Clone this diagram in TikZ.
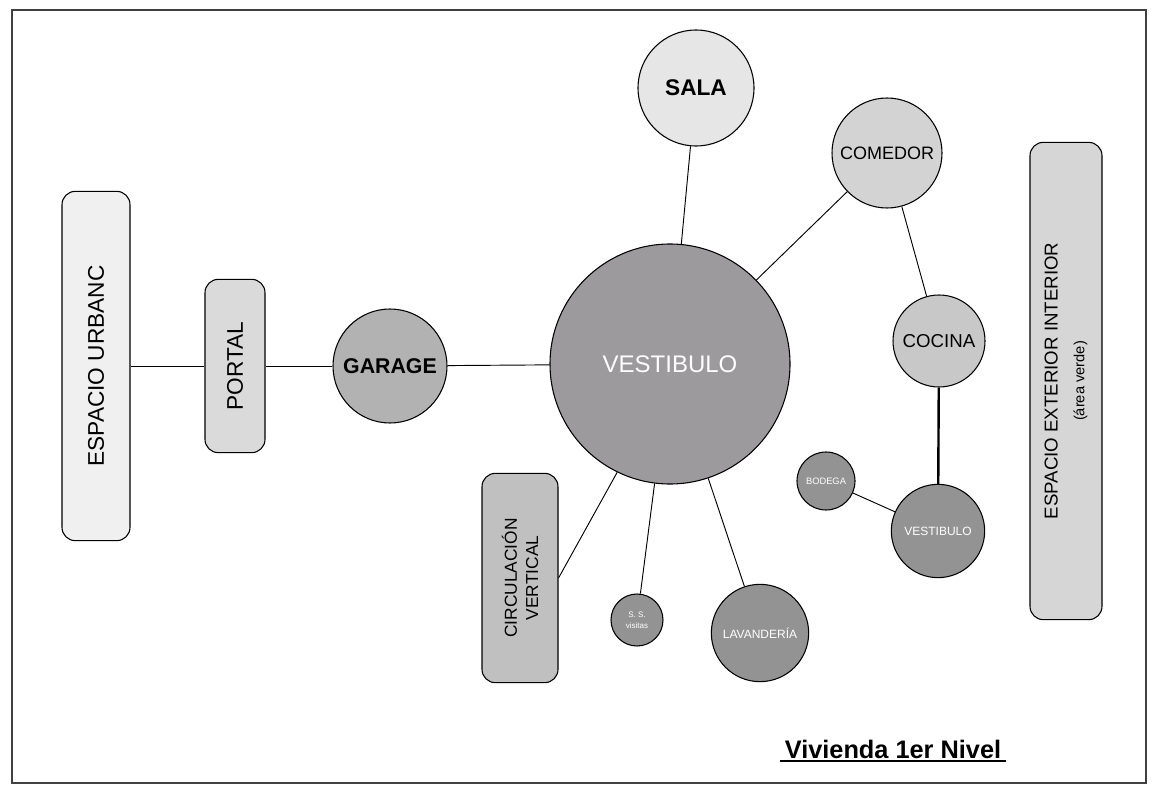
\documentclass[tikz,border=0pt]{standalone}
\usepackage{fontspec}
\setmainfont{Liberation Sans}
\definecolor{urbgray}{HTML}{F0F0F0}
\definecolor{portgray}{HTML}{DADADA}
\definecolor{gargray}{HTML}{B2B2B2}
\definecolor{vestgray}{HTML}{9C9A9C}
\definecolor{salagray}{HTML}{E6E6E6}
\definecolor{comgray}{HTML}{D3D3D3}
\definecolor{cocgray}{HTML}{C8C8C8}
\definecolor{smallgray}{HTML}{939393}
\definecolor{circgray}{HTML}{C0C0C0}
\definecolor{extgray}{HTML}{D6D6D6}
\begin{document}
\begin{tikzpicture}[x=0.75pt,y=-0.75pt,
  room/.style={circle,draw,line width=0.8pt,inner sep=0pt},
  zone/.style={draw,line width=0.8pt,rounded corners=10pt,rotate=90,inner sep=0pt,align=center},
  link/.style={line width=0.7pt}]
\useasboundingbox (0,0) rectangle (1157,795);
\draw[line width=1.1pt,black!75] (12,10) rectangle (1146,783);

% zonas exteriores
\node[zone,fill=urbgray,minimum width=262pt,minimum height=51pt,font=\fontsize{17}{20}\selectfont] (urbano) at (96,366) {ESPACIO URBANC};
\node[zone,fill=portgray,minimum width=130pt,minimum height=45pt,font=\fontsize{17}{20}\selectfont] (portal) at (235,366) {PORTAL};
\node[zone,fill=circgray,minimum width=157pt,minimum height=57pt,font=\fontsize{13}{16}\selectfont] (circ) at (520,578) {CIRCULACIÓN\\VERTICAL};
\node[zone,fill=extgray,minimum width=358pt,minimum height=54pt,font=\fontsize{14}{20}\selectfont] (exterior) at (1066,381) {ESPACIO EXTERIOR INTERIOR\\{\fontsize{11}{13}\selectfont (área verde)}};

% ambientes
\node[room,fill=gargray,minimum size=85.5pt,font=\bfseries\fontsize{16}{18}\selectfont] (garage) at (390,366) {GARAGE};
\node[room,fill=vestgray,minimum size=180pt,text=white,font=\fontsize{18}{20}\selectfont] (vest) at (670,364) {VESTIBULO};
\node[room,fill=salagray,minimum size=87pt,font=\bfseries\fontsize{17}{20}\selectfont] (sala) at (696,88) {SALA};
\node[room,fill=comgray,minimum size=82.5pt,font=\fontsize{13.5}{16}\selectfont] (comedor) at (887,153) {COMEDOR};
\node[room,fill=cocgray,minimum size=69pt,font=\fontsize{14}{16}\selectfont] (cocina) at (939,341) {COCINA};
\node[room,fill=smallgray,minimum size=70pt,text=white,font=\fontsize{9}{11}\selectfont] (vestb) at (938,531) {VESTIBULO};
\node[room,fill=smallgray,minimum size=43.5pt,text=white,font=\fontsize{7}{9}\selectfont] (bodega) at (826,481) {BODEGA};
\node[room,fill=smallgray,minimum size=39pt,text=white,align=center,font=\fontsize{6}{8}\selectfont] (ssv) at (637,620) {S. S.\\visitas};
\node[room,fill=smallgray,minimum size=73pt,text=white,font=\fontsize{9}{11}\selectfont] (lavand) at (760,633) {LAVANDERÍA};

% conexiones
\draw[link] (urbano) -- (portal);
\draw[link] (portal) -- (garage);
\draw[link] (garage) -- (vest);
\draw[link] (vest) -- (sala);
\draw[link] (vest) -- (comedor);
\draw[link] (comedor) -- (cocina);
\draw[line width=1.8pt] (cocina) -- (vestb);
\draw[link] (bodega) -- (vestb);
\draw[link] (vest.244) -- (circ.south);
\draw[link] (vest) -- (ssv);
\draw[link] (vest) -- (lavand);

\node[font=\bfseries\fontsize{19}{22}\selectfont] (titulo) at (893,749) {Vivienda 1er Nivel};
\path (titulo.south west) ++(0,-2) coordinate (ua) (titulo.south east) ++(0,-2) coordinate (ub);
\draw[line width=1.5pt] (ua) -- (ub);
\end{tikzpicture}
\end{document}
